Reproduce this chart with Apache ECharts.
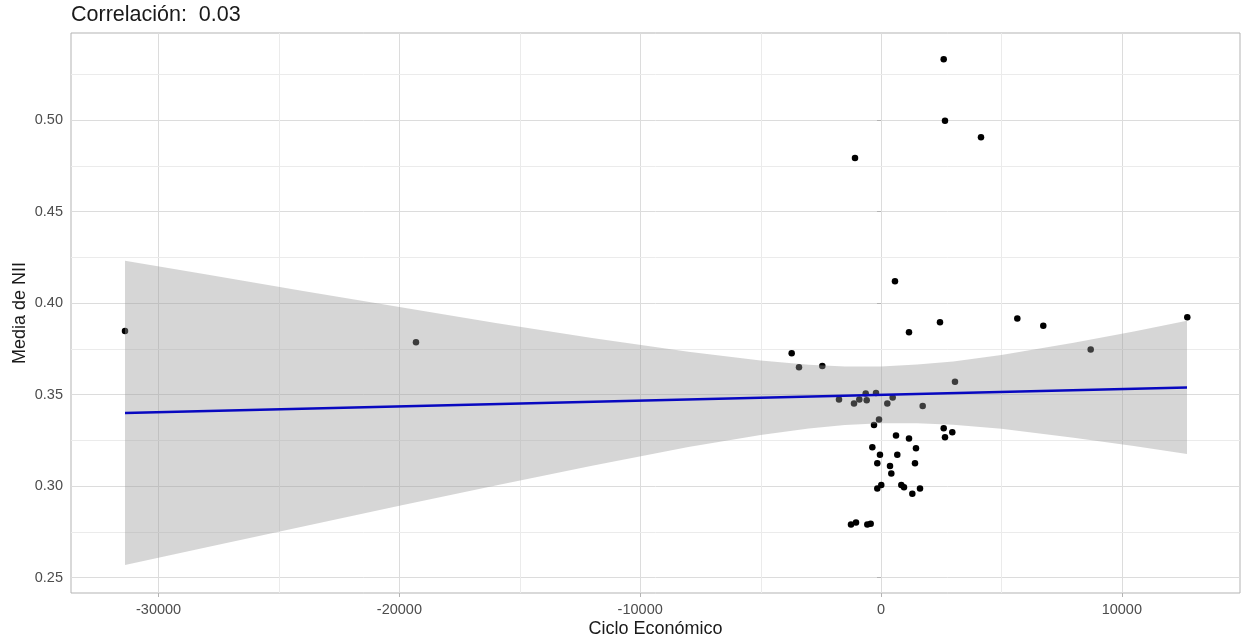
<!DOCTYPE html>
<html>
<head>
<meta charset="utf-8">
<title>Correlación</title>
<script src="https://cdn.jsdelivr.net/npm/echarts@6/dist/echarts.min.js"></script>
<style>
  html, body { margin: 0; padding: 0; background: #fff; }
  #chart { width: 1241px; height: 642px; }
</style>
</head>
<body>
<div id="chart"></div>
<script>
// puntos: ciclo económico vs media de NII
const cicloX = [
  -31395, -19311, 581, 1163, 2450, 5661, -3709, -3405, -2437, 3073,
  -1744, -1121, -900, -635, -594, -208, 263, 485, -83, -291,
  1731, 2604, 2961, 2658, 623, 1163, 1453, -360, -42, 677,
  -154, 374, 1412, 428, -154, 12, 843, 955, 1301, 1620,
  -1246, -1038, -568, -428, 2604, 2658, 4153, -1080, 6740, 8708,
  12720
];
const mediaNII = [
  0.3848, 0.3786, 0.4120, 0.3841, 0.3896, 0.3916, 0.3726, 0.3650, 0.3657, 0.3570,
  0.3473, 0.3451, 0.3474, 0.3506, 0.3469, 0.3509, 0.3451, 0.3484, 0.3364, 0.3334,
  0.3438, 0.3316, 0.3294, 0.3267, 0.3276, 0.3260, 0.3207, 0.3212, 0.3172, 0.3172,
  0.3125, 0.3110, 0.3125, 0.3069, 0.2987, 0.3006, 0.3006, 0.2994, 0.2959, 0.2987,
  0.2790, 0.2801, 0.2790, 0.2795, 0.5332, 0.4996, 0.4907, 0.4793, 0.3876, 0.3747,
  0.3923
];

// recta ajustada (extremos)
const fitX = [-31395, 12708];
const fitY = [0.3400, 0.3539];

// banda de confianza
const bandX = [-31395, -28000, -24000, -20000, -16000, -12000, -8000, -5000, -3000, -1500, 0, 1500, 3000, 5000, 8000, 10500, 12708];
const bandUpper = [0.4231, 0.4156, 0.4066, 0.3979, 0.3892, 0.3810, 0.3734, 0.3686, 0.3663, 0.3654, 0.3654, 0.3664, 0.3681, 0.3717, 0.3783, 0.3845, 0.3903];
const bandLower = [0.2569, 0.2666, 0.2780, 0.2893, 0.3004, 0.3112, 0.3214, 0.3280, 0.3315, 0.3334, 0.3344, 0.3344, 0.3335, 0.3313, 0.3265, 0.3219, 0.3175];

// ejes
const xTicks = [-30000, -20000, -10000, 0, 10000];
const xMinor = [-25000, -15000, -5000, 5000];
const yTicks = [0.25, 0.30, 0.35, 0.40, 0.45, 0.50];
const yMinor = [0.275, 0.325, 0.375, 0.425, 0.475, 0.525];
const xRange = [-33638, 14909];
const yRange = [0.2416, 0.5476];

const FONT = '"Liberation Sans", Arial, sans-serif';

const chart = echarts.init(document.getElementById('chart'));

function minorV(params, api) {
  const p = api.coord([api.value(0), yRange[0]]);
  const cs = params.coordSys;
  const x = Math.round(p[0]) + 0.5;
  return {
    type: 'line',
    shape: { x1: x, y1: cs.y, x2: x, y2: cs.y + cs.height },
    style: { stroke: '#ebebeb', lineWidth: 1 }
  };
}

function minorH(params, api) {
  const p = api.coord([xRange[0], api.value(1)]);
  const cs = params.coordSys;
  const y = Math.round(p[1]) + 0.5;
  return {
    type: 'line',
    shape: { x1: cs.x, y1: y, x2: cs.x + cs.width, y2: y },
    style: { stroke: '#ebebeb', lineWidth: 1 }
  };
}

function band(params, api) {
  const pts = [];
  for (let i = 0; i < bandX.length; i++) pts.push(api.coord([bandX[i], bandUpper[i]]));
  for (let i = bandX.length - 1; i >= 0; i--) pts.push(api.coord([bandX[i], bandLower[i]]));
  return {
    type: 'polygon',
    shape: { points: pts },
    style: { fill: 'rgba(153,153,153,0.4)' }
  };
}

const option = {
  animation: false,
  backgroundColor: '#ffffff',
  textStyle: { fontFamily: FONT },

  title: {
    text: 'Correlación:  0.03',
    left: 71,
    top: 4,
    padding: 0,
    textStyle: { fontFamily: FONT, fontSize: 21.5, fontWeight: 'normal', color: '#1a1a1a' }
  },

  grid: {
    left: 71,
    right: 1,
    top: 33,
    bottom: 49,
    outerBoundsMode: 'none',
    show: true,
    borderColor: '#b3b3b3',
    borderWidth: 1,
    backgroundColor: 'transparent'
  },

  xAxis: {
    type: 'value',
    min: xRange[0],
    max: xRange[1],
    name: 'Ciclo Económico',
    nameLocation: 'middle',
    nameGap: 27,
    nameMoveOverlap: false,
    nameTextStyle: { fontFamily: FONT, fontSize: 18, color: '#1a1a1a' },
    axisLine: { show: false },
    axisTick: { show: true, length: 4, lineStyle: { color: '#b3b3b3' }, customValues: xTicks },
    axisLabel: {
      customValues: xTicks,
      margin: 9,
      fontFamily: FONT,
      fontSize: 14.5,
      color: '#4d4d4d',
      formatter: (v) => String(v)
    },
    splitLine: { show: true, lineStyle: { color: '#dcdcdc', width: 1 } }
  },

  yAxis: {
    type: 'value',
    min: yRange[0],
    max: yRange[1],
    name: 'Media de NII',
    nameLocation: 'middle',
    nameGap: 42,
    nameMoveOverlap: false,
    nameTextStyle: { fontFamily: FONT, fontSize: 18, color: '#1a1a1a' },
    axisLine: { show: false },
    axisTick: { show: true, length: 4, lineStyle: { color: '#b3b3b3' }, customValues: yTicks },
    axisLabel: {
      customValues: yTicks,
      margin: 8,
      fontFamily: FONT,
      fontSize: 14.5,
      color: '#4d4d4d',
      formatter: (v) => v.toFixed(2)
    },
    splitLine: { show: true, lineStyle: { color: '#dcdcdc', width: 1 } }
  },

  series: [
    {
      // rejilla secundaria vertical
      type: 'custom',
      silent: true,
      z: 1,
      renderItem: minorV,
      data: xMinor.map((v) => [v, yRange[0]])
    },
    {
      // rejilla secundaria horizontal
      type: 'custom',
      silent: true,
      z: 1,
      renderItem: minorH,
      data: yMinor.map((v) => [xRange[0], v])
    },
    {
      type: 'scatter',
      z: 2,
      symbolSize: 6.5,
      itemStyle: { color: '#000000', opacity: 1 },
      data: cicloX.map((x, i) => [x, mediaNII[i]])
    },
    {
      // banda de confianza
      type: 'custom',
      silent: true,
      z: 3,
      renderItem: band,
      data: [[bandX[0], bandUpper[0]]]
    },
    {
      type: 'line',
      z: 4,
      symbol: 'none',
      silent: true,
      lineStyle: { color: '#0808c0', width: 2.5 },
      data: fitX.map((x, i) => [x, fitY[i]])
    }
  ]
};

chart.setOption(option);
</script>
</body>
</html>
